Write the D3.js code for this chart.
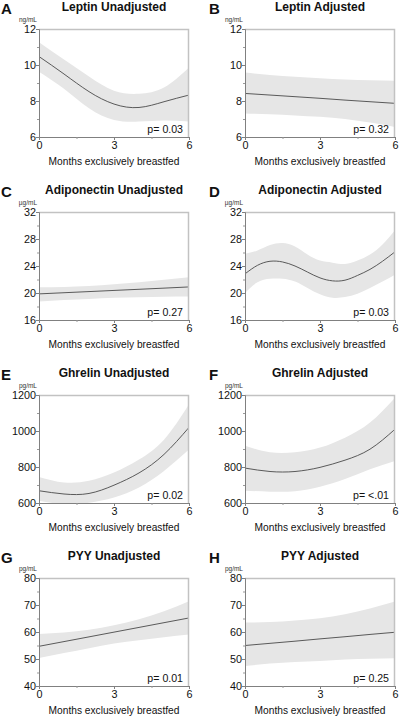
<!DOCTYPE html>
<html><head><meta charset="utf-8">
<script src="https://cdn.jsdelivr.net/npm/d3@7/dist/d3.min.js"></script>
<style>
html,body{margin:0;padding:0;background:#fff;overflow:hidden;}
svg{display:block;font-family:"Liberation Sans",Arial,Helvetica,sans-serif;}
</style></head>
<body>
<svg id="chart" width="400" height="716"></svg>
<script>
// ---- data ----
const months = [0, 1, 2, 3, 4, 5, 6];
const monthsFine = [0, 0.5, 1, 1.5, 2, 2.5, 3, 3.5, 4, 4.5, 5, 5.5, 6];
const xTicks = [0, 3, 6];
const xMinorTicks = [1.5, 4.5];

const panelLetters = ["A", "B", "C", "D", "E", "F", "G", "H"];
const panelTitles = ["Leptin Unadjusted", "Leptin Adjusted", "Adiponectin Unadjusted", "Adiponectin Adjusted",
  "Ghrelin Unadjusted", "Ghrelin Adjusted", "PYY Unadjusted", "PYY Adjusted"];
const panelUnits = ["ng/mL", "ng/mL", "µg/mL", "µg/mL", "pg/mL", "pg/mL", "pg/mL", "pg/mL"];
const pValues = ["p= 0.03", "p= 0.32", "p= 0.27", "p= 0.03", "p= 0.02", "p= <.01", "p= 0.01", "p= 0.25"];

const leptinTicks = [6, 8, 10, 12], leptinMinor = [7, 9, 11];
const adipoTicks = [16, 20, 24, 28, 32], adipoMinor = [18, 22, 26, 30];
const ghrelinTicks = [600, 800, 1000, 1200], ghrelinMinor = [700, 900, 1100];
const pyyTicks = [40, 50, 60, 70, 80], pyyMinor = [45, 55, 65, 75];

const leptinUnadjFit = [10.47, 9.5, 8.52, 7.83, 7.64, 7.96, 8.33];
const leptinUnadjLo  = [9.63, 8.68, 7.6, 6.95, 6.86, 6.92, 6.86];
const leptinUnadjHi  = [11.27, 10.3, 9.36, 8.57, 8.4, 8.75, 9.86];

const leptinAdjFit = [8.42, 8.33, 8.24, 8.15, 8.05, 7.96, 7.87];
const leptinAdjLo  = [7.31, 7.26, 7.2, 7.12, 7.0, 6.8, 6.56];
const leptinAdjHi  = [9.58, 9.45, 9.35, 9.27, 9.2, 9.15, 9.13];

const adipoUnadjFit = [19.87, 20.04, 20.21, 20.38, 20.55, 20.72, 20.9];
const adipoUnadjLo  = [18.73, 18.95, 19.12, 19.28, 19.38, 19.45, 19.47];
const adipoUnadjHi  = [20.86, 20.9, 21.05, 21.3, 21.6, 21.95, 22.35];

const adipoAdjFit = [22.84, 24.1, 24.7, 24.6, 24.0, 23.1, 22.24, 21.8, 21.9, 22.6, 23.5, 24.7, 26.1];
const adipoAdjLo  = [20.0, 21.6, 22.1, 22.1, 21.7, 20.75, 19.8, 19.3, 19.4, 19.9, 20.75, 21.7, 22.7];
const adipoAdjHi  = [25.8, 26.3, 27.1, 27.4, 26.9, 25.7, 24.8, 24.5, 24.3, 24.8, 25.7, 27.2, 29.3];

const ghrelinUnadjFit = [668, 650, 653, 699, 767, 870, 1020];
const ghrelinUnadjLo  = [612, 594, 602, 631, 686, 778, 897];
const ghrelinUnadjHi  = [745, 714, 723, 769, 842, 952, 1149];

const ghrelinAdjFit = [794, 775, 775, 798, 838, 899, 1010];
const ghrelinAdjLo  = [668, 663, 665, 690, 733, 788, 834];
const ghrelinAdjHi  = [918, 882, 882, 908, 963, 1047, 1185];

const pyyUnadjFit = [54.7, 56.45, 58.2, 59.95, 61.7, 63.45, 65.2];
const pyyUnadjLo  = [50.4, 52.2, 54.0, 55.7, 56.9, 58.1, 59.1];
const pyyUnadjHi  = [59.3, 59.8, 60.8, 62.5, 64.7, 67.7, 71.4];

const pyyAdjFit = [55.0, 55.8, 56.6, 57.45, 58.25, 59.1, 59.9];
const pyyAdjLo  = [47.4, 48.3, 48.9, 49.3, 49.8, 50.1, 50.3];
const pyyAdjHi  = [63.5, 63.7, 64.3, 65.1, 66.6, 68.7, 71.3];

// ---- panel table ----
const panels = [
  {x: months, fit: leptinUnadjFit, lo: leptinUnadjLo, hi: leptinUnadjHi, ticks: leptinTicks, minor: leptinMinor},
  {x: months, fit: leptinAdjFit, lo: leptinAdjLo, hi: leptinAdjHi, ticks: leptinTicks, minor: leptinMinor},
  {x: months, fit: adipoUnadjFit, lo: adipoUnadjLo, hi: adipoUnadjHi, ticks: adipoTicks, minor: adipoMinor},
  {x: monthsFine, fit: adipoAdjFit, lo: adipoAdjLo, hi: adipoAdjHi, ticks: adipoTicks, minor: adipoMinor},
  {x: months, fit: ghrelinUnadjFit, lo: ghrelinUnadjLo, hi: ghrelinUnadjHi, ticks: ghrelinTicks, minor: ghrelinMinor},
  {x: months, fit: ghrelinAdjFit, lo: ghrelinAdjLo, hi: ghrelinAdjHi, ticks: ghrelinTicks, minor: ghrelinMinor},
  {x: months, fit: pyyUnadjFit, lo: pyyUnadjLo, hi: pyyUnadjHi, ticks: pyyTicks, minor: pyyMinor},
  {x: months, fit: pyyAdjFit, lo: pyyAdjLo, hi: pyyAdjHi, ticks: pyyTicks, minor: pyyMinor}
];

// ---- layout ----
const colLeft = [39, 245];
const plotW = 150;
const rowTop = [29, 212, 395, 578];
const plotH = 108;

const svg = d3.select("#chart");

panels.forEach((p, i) => {
  const col = i % 2, row = Math.floor(i / 2);
  const x0 = colLeft[col], y0 = rowTop[row];
  const g = svg.append("g").attr("transform", `translate(${x0},${y0})`);
  const xs = d3.scaleLinear().domain([0, 6]).range([0, plotW]);
  const ys = d3.scaleLinear().domain(d3.extent(p.ticks)).range([plotH, 0]);

  const clipId = "clip" + i;
  g.append("clipPath").attr("id", clipId).append("rect")
    .attr("x", 0).attr("y", 0).attr("width", plotW).attr("height", plotH);

  const pts = p.x.map((m, k) => ({m, fit: p.fit[k], lo: p.lo[k], hi: p.hi[k]}));
  const area = d3.area().x(d => xs(d.m)).y0(d => ys(d.lo)).y1(d => ys(d.hi)).curve(d3.curveNatural);
  const line = d3.line().x(d => xs(d.m)).y(d => ys(d.fit)).curve(d3.curveNatural);

  const inner = g.append("g").attr("clip-path", `url(#${clipId})`);
  inner.append("path").datum(pts).attr("d", area).attr("fill", "#e6e6e6");
  inner.append("path").datum(pts).attr("d", line).attr("fill", "none")
    .attr("stroke", "#4a4a4a").attr("stroke-width", 0.9);

  // light frame (top + right)
  g.append("path").attr("d", `M0,0.5H${plotW - 0.5}V${plotH}`)
    .attr("fill", "none").attr("stroke", "#c2c2c2").attr("stroke-width", 1.5);

  // y axis
  const yAxis = g.append("g").call(d3.axisLeft(ys).tickValues(p.ticks).tickSize(3).tickPadding(0).tickFormat(d3.format("d")));
  yAxis.select(".domain").attr("stroke", "#808080");
  yAxis.selectAll(".tick line").attr("stroke", "#808080");
  yAxis.selectAll(".tick text").attr("font-size", "10.8px").attr("fill", "#111").attr("dy", "0.36em");
  const yMinor = g.append("g").call(d3.axisLeft(ys).tickValues(p.minor).tickSize(2).tickFormat(""));
  yMinor.select(".domain").remove();
  yMinor.selectAll(".tick line").attr("stroke", "#999");

  // x axis
  const xAxis = g.append("g").attr("transform", `translate(0,${plotH})`)
    .call(d3.axisBottom(xs).tickValues(xTicks).tickSize(3).tickPadding(1).tickFormat(d3.format("d")));
  xAxis.select(".domain").attr("stroke", "#808080");
  xAxis.selectAll(".tick line").attr("stroke", "#808080");
  xAxis.selectAll(".tick text").attr("font-size", "10.8px").attr("fill", "#111");
  const xMinor = g.append("g").attr("transform", `translate(0,${plotH})`)
    .call(d3.axisBottom(xs).tickValues(xMinorTicks).tickSize(2).tickFormat(""));
  xMinor.select(".domain").remove();
  xMinor.selectAll(".tick line").attr("stroke", "#999");

  // x label
  g.append("text").attr("x", plotW / 2).attr("y", plotH + 28).attr("text-anchor", "middle")
    .attr("font-size", "10.2px").attr("fill", "#111").text("Months exclusively breastfed");

  // p value
  g.append("text").attr("x", plotW - 6).attr("y", plotH - 4).attr("text-anchor", "end")
    .attr("font-size", "10.6px").attr("fill", "#111").text(pValues[i]);

  // unit
  g.append("text").attr("x", -2).attr("y", -7.5).attr("text-anchor", "end")
    .attr("font-size", "6.5px").attr("fill", "#333").text(panelUnits[i]);

  // title
  g.append("text").attr("x", plotW / 2).attr("y", -18).attr("text-anchor", "middle")
    .attr("font-size", "12px").attr("font-weight", "bold").attr("fill", "#111").text(panelTitles[i]);

  // panel letter
  svg.append("text").attr("x", col === 0 ? 1 : 209).attr("y", y0 - 15)
    .attr("font-size", "15px").attr("font-weight", "bold").attr("fill", "#111").text(panelLetters[i]);
});
</script>
</body></html>
